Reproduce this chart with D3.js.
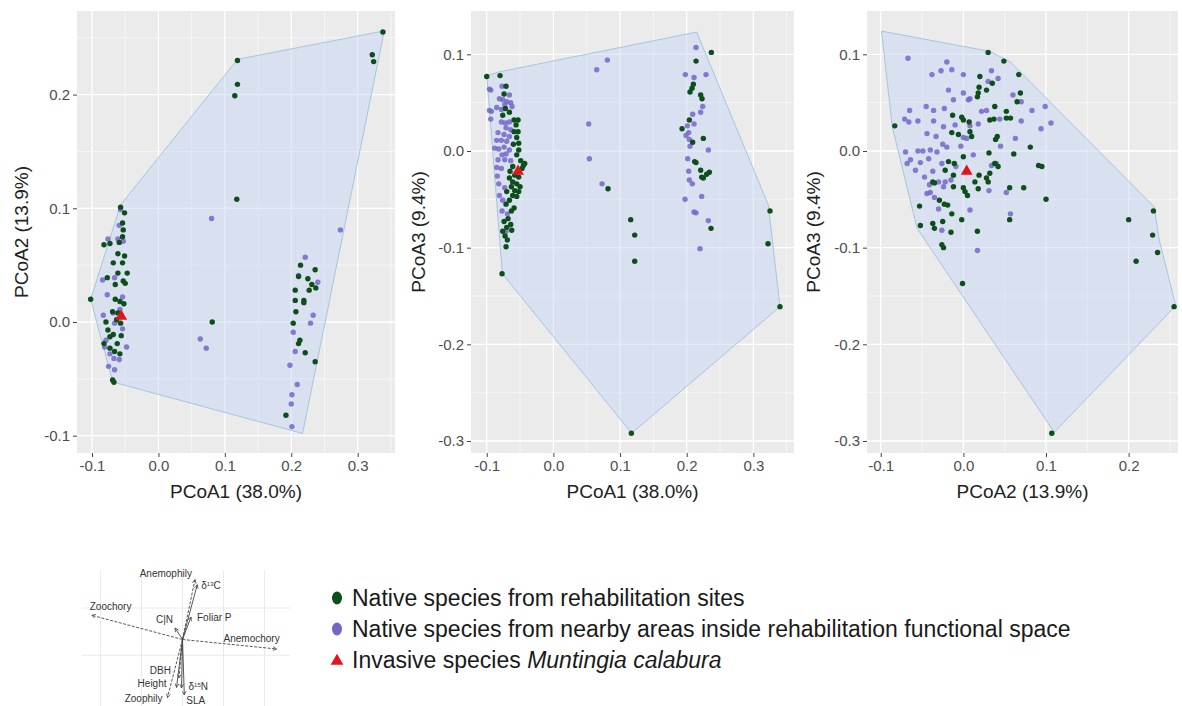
<!DOCTYPE html>
<html>
<head>
<meta charset="utf-8">
<script src="https://cdn.jsdelivr.net/npm/d3@7"></script>
<style>
    body { margin: 0; background: #fff; }
    svg { display: block; }
    text { font-family: "Liberation Sans", Arial, sans-serif; }
</style>
</head>
<body>
<div id="chart"></div>
<script>
'use strict';

/* PCoA functional space of rehabilitation sites: three projections,
   a trait biplot inset and a legend. */

// ---- Panel 1: PCoA1 x PCoA2 ----
const p1Rehab = [
    [0.338, 0.255], [0.322, 0.235], [0.324, 0.229], [0.119, 0.230], [0.119, 0.209], [0.115, 0.199],
    [0.118, 0.108], [0.081, 0.0], [-0.102, 0.020], [0.192, -0.082],
    [0.214, 0.050], [0.236, 0.046], [0.211, 0.040], [0.225, 0.038], [0.231, 0.033], [0.237, 0.030],
    [0.227, 0.028], [0.206, 0.028], [0.206, 0.019], [0.219, 0.019], [0.219, 0.017], [0.207, 0.009],
    [0.203, -0.001], [0.213, -0.016], [0.211, -0.019], [0.221, -0.027], [0.236, -0.035],
    [-0.057, 0.101], [-0.051, 0.096], [-0.054, 0.087], [-0.053, 0.081], [-0.054, 0.075], [-0.082, 0.068],
    [-0.073, 0.069], [-0.059, 0.070], [-0.061, 0.060], [-0.051, 0.058], [-0.068, 0.052], [-0.054, 0.052],
    [-0.077, 0.039], [-0.061, 0.043], [-0.047, 0.043], [-0.053, 0.036], [-0.065, 0.033], [-0.050, 0.034],
    [-0.065, 0.020], [-0.058, 0.018], [-0.052, 0.016], [-0.069, 0.009], [-0.061, 0.008], [-0.079, 0.0],
    [-0.063, 0.002], [-0.057, -0.001], [-0.076, -0.007], [-0.068, -0.011], [-0.056, -0.012], [-0.062, -0.019],
    [-0.073, -0.023], [-0.066, -0.026], [-0.058, -0.028], [-0.069, -0.051], [-0.067, -0.053], [-0.073, -0.013],
    [-0.082, -0.019]
];
const p1Nearby = [
    [0.221, 0.057], [0.211, 0.041], [0.240, 0.035], [0.233, 0.006], [0.229, -0.001], [0.203, -0.009],
    [0.206, -0.026], [0.198, -0.038], [0.209, -0.055], [0.201, -0.064], [0.200, -0.072], [0.201, -0.092],
    [0.274, 0.081], [0.080, 0.091], [0.063, -0.015], [0.072, -0.023],
    [-0.057, 0.099], [-0.059, 0.085], [-0.076, 0.073], [-0.061, 0.073], [-0.053, 0.071], [-0.084, 0.037],
    [-0.066, 0.039], [-0.077, 0.024], [-0.054, 0.022], [-0.083, 0.006], [-0.068, 0.008], [-0.066, -0.001],
    [-0.054, -0.006], [-0.079, -0.016], [-0.073, -0.028], [-0.067, -0.032], [-0.059, -0.033], [-0.075, -0.039],
    [-0.066, -0.042], [-0.081, -0.022], [-0.058, 0.011], [-0.048, -0.022]
];
const p1Invasive = [[-0.056, 0.005]];
const p1Hull = [
    [-0.102, 0.020], [-0.057, 0.103], [0.119, 0.231], [0.340, 0.256], [0.217, -0.098], [-0.061, -0.054], [-0.070, -0.050]
];

// ---- Panel 2: PCoA1 x PCoA3 ----
const p2Rehab = [
    [-0.100, 0.077], [-0.080, 0.078], [0.237, 0.102], [0.214, 0.093], [-0.077, -0.127], [0.117, -0.292],
    [0.340, -0.161], [0.325, -0.062], [0.322, -0.096], [0.116, -0.071], [0.122, -0.087], [0.122, -0.114],
    [0.082, -0.039],
    [0.210, 0.069], [0.208, 0.065], [0.205, 0.061], [0.221, 0.058], [0.223, 0.054], [0.204, 0.032],
    [0.193, 0.023], [0.209, 0.009], [0.225, 0.013], [0.212, -0.011], [0.214, -0.012], [0.221, -0.020],
    [0.234, -0.022], [0.230, -0.024], [0.2225, -0.027], [0.225, -0.028], [0.2365, -0.080],
    [-0.071, 0.067], [-0.074, 0.059], [-0.072, 0.044], [-0.066, 0.040], [-0.076, 0.037], [-0.059, 0.032],
    [-0.053, 0.032], [-0.056, 0.027], [-0.059, 0.020], [-0.053, 0.020], [-0.055, 0.014], [-0.052, 0.008],
    [-0.060, 0.007], [-0.052, 0.001], [-0.055, -0.004], [-0.049, -0.010], [-0.045, -0.015], [-0.061, -0.016],
    [-0.065, -0.021], [-0.058, -0.025], [-0.066, -0.028], [-0.052, -0.027], [-0.061, -0.032], [-0.055, -0.034],
    [-0.050, -0.037], [-0.063, -0.037], [-0.058, -0.041], [-0.052, -0.042], [-0.070, -0.042], [-0.061, -0.046],
    [-0.055, -0.047], [-0.066, -0.051], [-0.071, -0.055], [-0.059, -0.059], [-0.063, -0.062], [-0.068, -0.070],
    [-0.074, -0.073], [-0.064, -0.076], [-0.070, -0.079], [-0.076, -0.083], [-0.0725, -0.088], [-0.069, -0.092],
    [-0.071, -0.099], [-0.0625, -0.082], [-0.043, -0.013], [-0.047, -0.018]
];
const p2Nearby = [
    [0.214, 0.107], [0.081, 0.094], [0.065, 0.084], [0.053, 0.028], [0.054, -0.008], [0.073, -0.034],
    [0.198, 0.079], [0.229, 0.079], [0.211, 0.076], [0.224, 0.046], [0.221, 0.040], [0.209, 0.038],
    [0.211, 0.028], [0.201, 0.026], [0.203, 0.019], [0.199, 0.016], [0.204, 0.012], [0.205, 0.005],
    [0.2325, 0.001], [0.2015, -0.008], [0.203, -0.021], [0.204, -0.030], [0.2085, -0.034], [0.1975, -0.050],
    [0.2225, -0.047], [0.211, -0.063], [0.214, -0.064], [0.2325, -0.072], [0.220, -0.101],
    [-0.077, 0.067], [-0.094, 0.063], [-0.066, 0.058], [-0.081, 0.054], [-0.076, 0.053], [-0.070, 0.051],
    [-0.064, 0.050], [-0.073, 0.048], [-0.062, 0.046], [-0.093, 0.041], [-0.085, 0.045], [-0.078, 0.043],
    [-0.094, 0.033], [-0.078, 0.030], [-0.072, 0.029], [-0.066, 0.030], [-0.071, 0.024], [-0.064, 0.022],
    [-0.083, 0.019], [-0.074, 0.017], [-0.066, 0.015], [-0.085, 0.011], [-0.078, 0.011], [-0.070, 0.010],
    [-0.088, 0.003], [-0.082, 0.002], [-0.074, 0.004], [-0.066, 0.001], [-0.077, -0.004], [-0.071, -0.003],
    [-0.083, -0.009], [-0.073, -0.009], [-0.064, -0.010], [-0.085, -0.017], [-0.078, -0.018], [-0.084, -0.026],
    [-0.082, -0.034], [-0.073, -0.038], [-0.081, -0.046], [-0.076, -0.051], [-0.077, -0.062], [-0.069, -0.065],
    [-0.071, -0.083], [-0.096, 0.064], [-0.096, 0.042]
];
const p2Invasive = [[-0.053, -0.021]];
const p2Hull = [
    [-0.100, 0.078], [-0.080, 0.082], [0.215, 0.123], [0.3225, -0.056], [0.340, -0.161], [0.1175, -0.292], [-0.0765, -0.127]
];

// ---- Panel 3: PCoA2 x PCoA3 ----
const p3Rehab = [
    [0.030, 0.102], [0.049, 0.093], [0.020, 0.077], [0.067, 0.079], [0.019, 0.066], [0.018, 0.060],
    [0.017, 0.056], [0.035, 0.070], [0.028, 0.063], [0.038, 0.046], [0.052, 0.041], [0.069, 0.060],
    [0.065, 0.051], [-0.013, 0.037], [-0.002, 0.035], [0.0, 0.032], [0.032, 0.032], [0.037, 0.033],
    [0.052, 0.034], [0.057, 0.034], [-0.083, 0.026], [-0.014, 0.019], [-0.006, 0.017], [0.008, 0.020],
    [0.010, 0.015], [0.0, -0.006], [-0.011, -0.013], [-0.018, -0.011], [0.031, -0.002], [0.061, -0.003],
    [0.091, -0.015], [0.095, -0.016], [0.081, 0.004], [0.038, -0.013], [0.042, -0.016], [0.032, -0.023],
    [0.019, -0.025], [0.028, -0.028], [0.030, -0.032], [0.014, -0.032], [-0.022, -0.020], [-0.012, -0.025],
    [-0.037, -0.032], [-0.035, -0.033], [0.0, -0.038], [0.002, -0.042], [0.005, -0.046], [-0.012, -0.037],
    [0.018, -0.039], [0.056, -0.038], [0.073, -0.038], [0.100, -0.050], [-0.029, -0.051], [-0.023, -0.055],
    [-0.019, -0.056], [-0.053, -0.057], [-0.014, -0.065], [-0.002, -0.071], [0.056, -0.071], [-0.037, -0.075],
    [-0.035, -0.080], [-0.025, -0.073], [-0.052, -0.077], [-0.015, -0.084], [0.017, -0.083], [-0.026, -0.097],
    [-0.024, -0.100], [-0.001, -0.137], [0.107, -0.292], [0.200, -0.071], [0.230, -0.062], [0.229, -0.087],
    [0.209, -0.114], [0.235, -0.105], [0.255, -0.161], [0.041, 0.015], [0.039, 0.012], [0.007, 0.030]
];
const p3Nearby = [
    [-0.067, 0.096], [-0.020, 0.092], [-0.014, 0.084], [-0.027, 0.083], [-0.038, 0.079], [0.0, 0.079],
    [0.034, 0.083], [-0.018, 0.063], [0.0, 0.060], [0.008, 0.054], [0.006, 0.053], [0.030, 0.072],
    [0.042, 0.075], [0.060, 0.058], [0.070, 0.051], [-0.012, 0.053], [-0.045, 0.046], [-0.036, 0.042],
    [-0.023, 0.044], [-0.065, 0.042], [0.022, 0.041], [0.028, 0.042], [0.044, 0.033], [0.070, 0.031],
    [0.083, 0.042], [0.099, 0.046], [0.106, 0.029], [0.094, 0.023], [-0.071, 0.033], [-0.066, 0.030],
    [-0.055, 0.031], [-0.036, 0.031], [-0.024, 0.025], [-0.010, 0.027], [0.008, 0.026], [0.018, 0.028],
    [0.0, 0.014], [0.004, 0.013], [-0.044, 0.018], [-0.033, 0.015], [-0.025, 0.007], [-0.020, 0.004],
    [-0.055, 0.0], [-0.049, 0.0], [-0.040, 0.001], [-0.032, -0.001], [-0.070, -0.001], [-0.068, -0.013],
    [-0.064, -0.009], [-0.058, -0.020], [-0.052, -0.012], [-0.042, -0.008], [-0.026, -0.013], [0.034, -0.015],
    [0.040, -0.013], [-0.009, -0.016], [-0.037, -0.021], [-0.030, -0.032], [-0.022, -0.032], [-0.024, -0.037],
    [0.031, -0.041], [0.052, -0.043], [-0.044, -0.044], [-0.040, -0.043], [-0.035, -0.048], [-0.030, -0.060],
    [0.008, -0.061], [0.057, -0.065], [-0.026, -0.082], [0.017, -0.103], [-0.047, -0.027], [-0.041, -0.035],
    [-0.015, -0.030], [0.012, -0.004], [0.045, 0.005], [0.063, 0.013], [-0.003, 0.005]
];
const p3Invasive = [[0.004, -0.021]];
const p3Hull = [
    [-0.099, 0.124], [0.032, 0.103], [0.057, 0.092], [0.231, -0.058], [0.237, -0.092], [0.257, -0.160],
    [0.110, -0.291], [-0.056, -0.080], [-0.086, 0.025]
];

// ---- Axis ticks and titles ----
const ticksPCoA1 = [-0.1, 0.0, 0.1, 0.2, 0.3];
const ticksPCoA2y = [-0.1, 0.0, 0.1, 0.2];
const ticksPCoA2x = [-0.1, 0.0, 0.1, 0.2];
const ticksPCoA3 = [-0.3, -0.2, -0.1, 0.0, 0.1];
const titlePCoA1 = 'PCoA1 (38.0%)';
const titlePCoA2 = 'PCoA2 (13.9%)';
const titlePCoA3 = 'PCoA3 (9.4%)';

// ---- Trait biplot inset (loadings) ----
const traitNames = ['Anemophily', 'δ13C', 'Foliar P', 'C|N', 'Zoochory', 'Anemochory', 'DBH', 'Height', 'Zoophily', 'δ15N', 'SLA'];
const traitAxis1 = [0.152, 0.18, 0.104, -0.091, -1.107, 1.149, -0.043, -0.073, -0.183, -0.012, 0.022];
const traitAxis2 = [0.99, 0.905, 0.372, 0.19, 0.40, -0.157, -0.636, -0.793, -0.959, -0.80, -0.917];
const traitDashed = ['Anemophily', 'Zoochory', 'Anemochory', 'Zoophily', 'DBH'];

// ---- Legend ----
const legendLabels = [
    ['Native species from rehabilitation sites'],
    ['Native species from nearby areas inside rehabilitation functional space'],
    ['Invasive species ', 'Muntingia calabura']
];

// Colours
const palette = {
    rehab: '#0c4f1a',
    nearby: '#7367c9',
    invasive: '#e3141c',
    panel: '#ebebeb',
    hullFill: '#c3d3f5',
    hullStroke: '#a6c6dc'
};

const W = 1182, H = 706;

const svg = d3.select('#chart').append('svg')
    .attr('width', W)
    .attr('height', H);

svg.append('rect').attr('width', W).attr('height', H).attr('fill', '#fff');

const fmt = v => v.toFixed(1);

// Minor breaks halfway between major ones, extended one step each side
function minorBreaks(ticks, domain) {
    let step = ticks[1] - ticks[0];
    let out = [];
    for (let i = -1; i < ticks.length; i++) {
        let m = ticks[0] + (i + 0.5) * step;
        if (m > domain[0] && m < domain[1]) out.push(m);
    }
    return out;
}

const panels = [
    { rehab: p1Rehab, nearby: p1Nearby, invasive: p1Invasive, hull: p1Hull,
      xTicks: ticksPCoA1, yTicks: ticksPCoA2y, xTitle: titlePCoA1, yTitle: titlePCoA2,
      box: { left: 77, right: 395, top: 11, bottom: 453 }, xDomain: [-0.1226, 0.3562], yDomain: [-0.1152, 0.2735], yTitleX: 21 },
    { rehab: p2Rehab, nearby: p2Nearby, invasive: p2Invasive, hull: p2Hull,
      xTicks: ticksPCoA1, yTicks: ticksPCoA3, xTitle: titlePCoA1, yTitle: titlePCoA3,
      box: { left: 471, right: 794, top: 11, bottom: 453 }, xDomain: [-0.1236, 0.361], yDomain: [-0.3124, 0.1448], yTitleX: 418 },
    { rehab: p3Rehab, nearby: p3Nearby, invasive: p3Invasive, hull: p3Hull,
      xTicks: ticksPCoA2x, yTicks: ticksPCoA3, xTitle: titlePCoA2, yTitle: titlePCoA3,
      box: { left: 867, right: 1178, top: 11, bottom: 453 }, xDomain: [-0.1166, 0.2597], yDomain: [-0.3124, 0.1448], yTitleX: 813 }
];

function drawPanel(p) {
    let b = p.box;
    let x = d3.scaleLinear().domain(p.xDomain).range([b.left, b.right]);
    let y = d3.scaleLinear().domain(p.yDomain).range([b.bottom, b.top]);
    let g = svg.append('g');

    g.append('rect')
        .attr('x', b.left).attr('y', b.top)
        .attr('width', b.right - b.left).attr('height', b.bottom - b.top)
        .attr('fill', palette.panel);

    // grid: minor then major
    g.selectAll('line.minor-x').data(minorBreaks(p.xTicks, p.xDomain)).join('line')
        .attr('x1', d => x(d)).attr('x2', d => x(d)).attr('y1', b.top).attr('y2', b.bottom)
        .attr('stroke', '#fff').attr('stroke-width', 0.6);
    g.selectAll('line.minor-y').data(minorBreaks(p.yTicks, p.yDomain)).join('line')
        .attr('y1', d => y(d)).attr('y2', d => y(d)).attr('x1', b.left).attr('x2', b.right)
        .attr('stroke', '#fff').attr('stroke-width', 0.6);
    g.selectAll('line.major-x').data(p.xTicks).join('line')
        .attr('x1', d => x(d)).attr('x2', d => x(d)).attr('y1', b.top).attr('y2', b.bottom)
        .attr('stroke', '#fff').attr('stroke-width', 1.3);
    g.selectAll('line.major-y').data(p.yTicks).join('line')
        .attr('y1', d => y(d)).attr('y2', d => y(d)).attr('x1', b.left).attr('x2', b.right)
        .attr('stroke', '#fff').attr('stroke-width', 1.3);

    // functional space hull
    g.append('path')
        .datum(p.hull)
        .attr('d', d3.line().x(d => x(d[0])).y(d => y(d[1])).curve(d3.curveLinearClosed))
        .attr('fill', palette.hullFill)
        .attr('fill-opacity', 0.45)
        .attr('stroke', palette.hullStroke)
        .attr('stroke-width', 1);

    // points
    g.selectAll('circle.nearby').data(p.nearby).join('circle')
        .attr('cx', d => x(d[0])).attr('cy', d => y(d[1])).attr('r', 2.7)
        .attr('fill', palette.nearby).attr('fill-opacity', 0.85);
    g.selectAll('circle.rehab').data(p.rehab).join('circle')
        .attr('cx', d => x(d[0])).attr('cy', d => y(d[1])).attr('r', 2.7)
        .attr('fill', palette.rehab);
    g.selectAll('path.invasive').data(p.invasive).join('path')
        .attr('transform', d => `translate(${x(d[0])},${y(d[1])})`)
        .attr('d', d3.symbol(d3.symbolTriangle, 60))
        .attr('fill', palette.invasive);

    // axes
    let axX = g.append('g')
        .attr('transform', `translate(0,${b.bottom})`)
        .call(d3.axisBottom(x).tickValues(p.xTicks).tickFormat(fmt).tickSize(4).tickPadding(3));
    let axY = g.append('g')
        .attr('transform', `translate(${b.left},0)`)
        .call(d3.axisLeft(y).tickValues(p.yTicks).tickFormat(fmt).tickSize(4).tickPadding(3));
    [axX, axY].forEach(a => {
        a.select('.domain').remove();
        a.selectAll('line').attr('stroke', '#444');
        a.selectAll('text').attr('fill', '#4d4d4d').style('font-size', '15px')
            .style('font-family', '"Liberation Sans", Arial, sans-serif');
    });

    g.append('text')
        .attr('x', (b.left + b.right) / 2).attr('y', 498)
        .attr('text-anchor', 'middle')
        .style('font-size', '19px').attr('fill', '#222')
        .text(p.xTitle);
    g.append('text')
        .attr('transform', `translate(${p.yTitleX}, ${(b.top + b.bottom) / 2}) rotate(-90)`)
        .attr('text-anchor', 'middle')
        .attr('dy', '0.35em')
        .style('font-size', '19px').attr('fill', '#222')
        .text(p.yTitle);
}

panels.forEach(drawPanel);

// ---- Inset biplot ----
const ix = d3.scaleLinear().domain([-1, 1]).range([100.5, 264.5]);
const iy = d3.scaleLinear().domain([-1, 1]).range([700, 579]);
const inset = svg.append('g');

inset.selectAll('line.igx').data([-1, -0.5, 0, 0.5, 1]).join('line')
    .attr('x1', d => ix(d)).attr('x2', d => ix(d)).attr('y1', 570).attr('y2', 706)
    .attr('stroke', '#e4e4e4').attr('stroke-width', 0.8);
inset.selectAll('line.igy').data([0.52, -0.26]).join('line')
    .attr('y1', d => iy(d)).attr('y2', d => iy(d)).attr('x1', 82).attr('x2', 290)
    .attr('stroke', '#e4e4e4').attr('stroke-width', 0.8);

svg.append('defs').append('marker')
    .attr('id', 'arrowhead')
    .attr('viewBox', '0 0 8 8')
    .attr('refX', 7).attr('refY', 4)
    .attr('markerWidth', 5).attr('markerHeight', 5)
    .attr('markerUnits', 'userSpaceOnUse')
    .attr('orient', 'auto')
    .append('path')
    .attr('d', 'M1,1 L7,4 L1,7')
    .attr('fill', 'none').attr('stroke', '#444').attr('stroke-width', 1.2);

const traits = traitNames.map((name, i) => ({ name, a1: traitAxis1[i], a2: traitAxis2[i] }));

inset.selectAll('line.vec').data(traits).join('line')
    .attr('x1', ix(0)).attr('y1', iy(0))
    .attr('x2', d => ix(d.a1)).attr('y2', d => iy(d.a2))
    .attr('stroke', '#444').attr('stroke-width', 0.9)
    .attr('stroke-dasharray', d => traitDashed.includes(d.name) ? '3,1.5' : null)
    .attr('marker-end', 'url(#arrowhead)');

// label placement relative to arrow tip
const labelPlace = {
    'Anemophily': { anchor: 'end', dx: -3, dy: -3 },
    'δ13C': { anchor: 'start', dx: 4, dy: 4 },
    'Foliar P': { anchor: 'start', dx: 6, dy: 4 },
    'C|N': { anchor: 'end', dx: -2, dy: -5 },
    'Zoochory': { anchor: 'start', dx: -2, dy: -5 },
    'Anemochory': { anchor: 'end', dx: 3, dy: -7 },
    'DBH': { anchor: 'end', dx: -8, dy: -4 },
    'Height': { anchor: 'end', dx: -10, dy: 0 },
    'Zoophily': { anchor: 'end', dx: -5, dy: 4 },
    'δ15N': { anchor: 'start', dx: 7, dy: 2 },
    'SLA': { anchor: 'start', dx: 2, dy: 9 }
};

inset.selectAll('text.vlab').data(traits).join('text')
    .attr('x', d => ix(d.a1) + labelPlace[d.name].dx)
    .attr('y', d => iy(d.a2) + labelPlace[d.name].dy)
    .attr('text-anchor', d => labelPlace[d.name].anchor)
    .style('font-size', '10px').attr('fill', '#333')
    .each(function (d) {
        let t = d3.select(this);
        let m = d.name.match(/^δ(\d+)(\w)$/);
        if (m) {
            t.append('tspan').text('δ');
            t.append('tspan').attr('dy', -3).style('font-size', '6px').text(m[1]);
            t.append('tspan').attr('dy', 3).text(m[2]);
        } else {
            t.text(d.name);
        }
    });

// ---- Legend ----
const legendY = d3.scalePoint().domain(d3.range(legendLabels.length)).range([598, 660]);
const legendColors = [palette.rehab, palette.nearby, palette.invasive];
const legend = svg.append('g');

legendLabels.forEach((parts, i) => {
    let cy = legendY(i);
    if (i < 2) {
        legend.append('ellipse').attr('cx', 337).attr('cy', cy).attr('rx', 5).attr('ry', 6.5)
            .attr('fill', legendColors[i]);
    } else {
        legend.append('path').attr('transform', `translate(337,${cy + 1})`)
            .attr('d', d3.symbol(d3.symbolTriangle, 70)).attr('fill', legendColors[i]);
    }
    let t = legend.append('text')
        .attr('x', 352).attr('y', cy + 8)
        .style('font-size', '23px').attr('fill', '#1a1a1a');
    parts.forEach((s, k) => {
        t.append('tspan').style('font-style', k === 1 ? 'italic' : 'normal').text(s);
    });
});
</script>
</body>
</html>
